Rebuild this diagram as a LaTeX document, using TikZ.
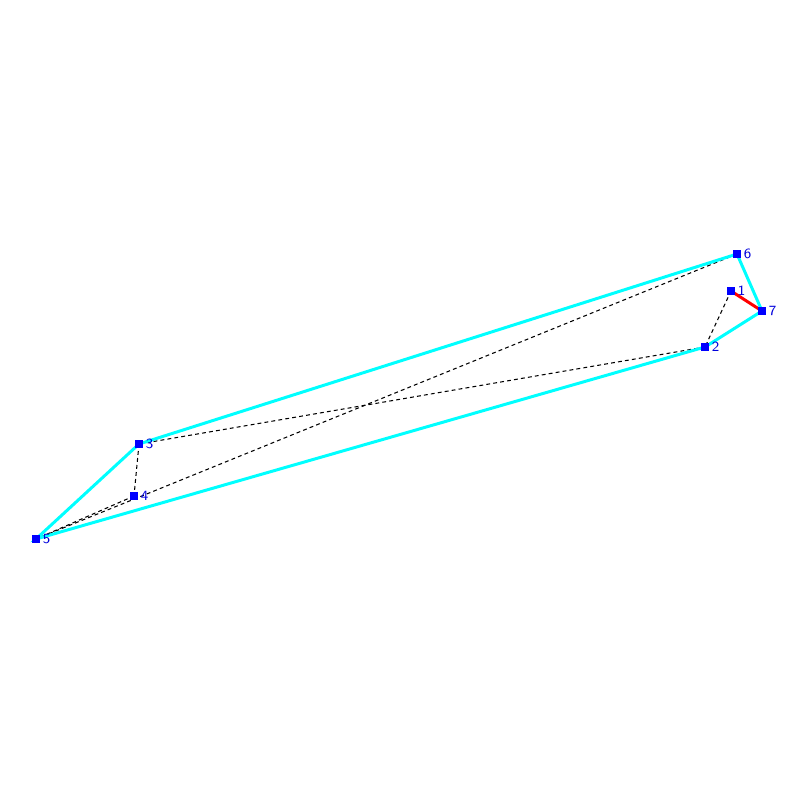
\documentclass[tikz,border=0pt]{standalone}
\definecolor{hullcyan}{RGB}{0,255,255}
\definecolor{ptblue}{RGB}{0,0,255}
\definecolor{labblue}{RGB}{0,0,220}
\definecolor{edgered}{RGB}{255,0,0}
\begin{document}
\begin{tikzpicture}[x=0.01cm,y=-0.01cm,
  pt/.style={fill=ptblue,inner sep=0pt,minimum size=2.5pt,draw=none,rectangle},
  lab/.style={text=labblue,font=\fontsize{4}{4.5}\selectfont\sffamily,inner sep=0pt,anchor=west},
  hull/.style={hullcyan,line width=0.85pt},
  red edge/.style={edgered,line width=0.85pt},
  dedge/.style={black,line width=0.3pt,dash pattern=on 1.1pt off 0.9pt}]
\useasboundingbox (0,0) rectangle (800,800);
\coordinate (c1) at (731,291);
\coordinate (c2) at (705,347);
\coordinate (c3) at (139,444);
\coordinate (c4) at (134,496);
\coordinate (c5) at (36,539);
\coordinate (c6) at (737,254);
\coordinate (c7) at (762,311);
% dashed edges
\draw[dedge] (c1) -- (c2);
\draw[dedge] (c2) -- (c3);
\draw[dedge] (c3) -- (c4);
\draw[dedge] (c4) -- (c5);
\draw[dedge] (c5) -- (c6);
% hull
\draw[hull] (c5) -- (c3) -- (c6) -- (c7) -- (c2) -- cycle;
\draw[red edge] (c1) -- (c7);
% markers
\foreach \i in {1,...,7}{
  \node[pt] (p\i) at (c\i) {};
  \node[lab] (l\i) at ([xshift=0.3pt]p\i.east) {\i};
}
\end{tikzpicture}
\end{document}
